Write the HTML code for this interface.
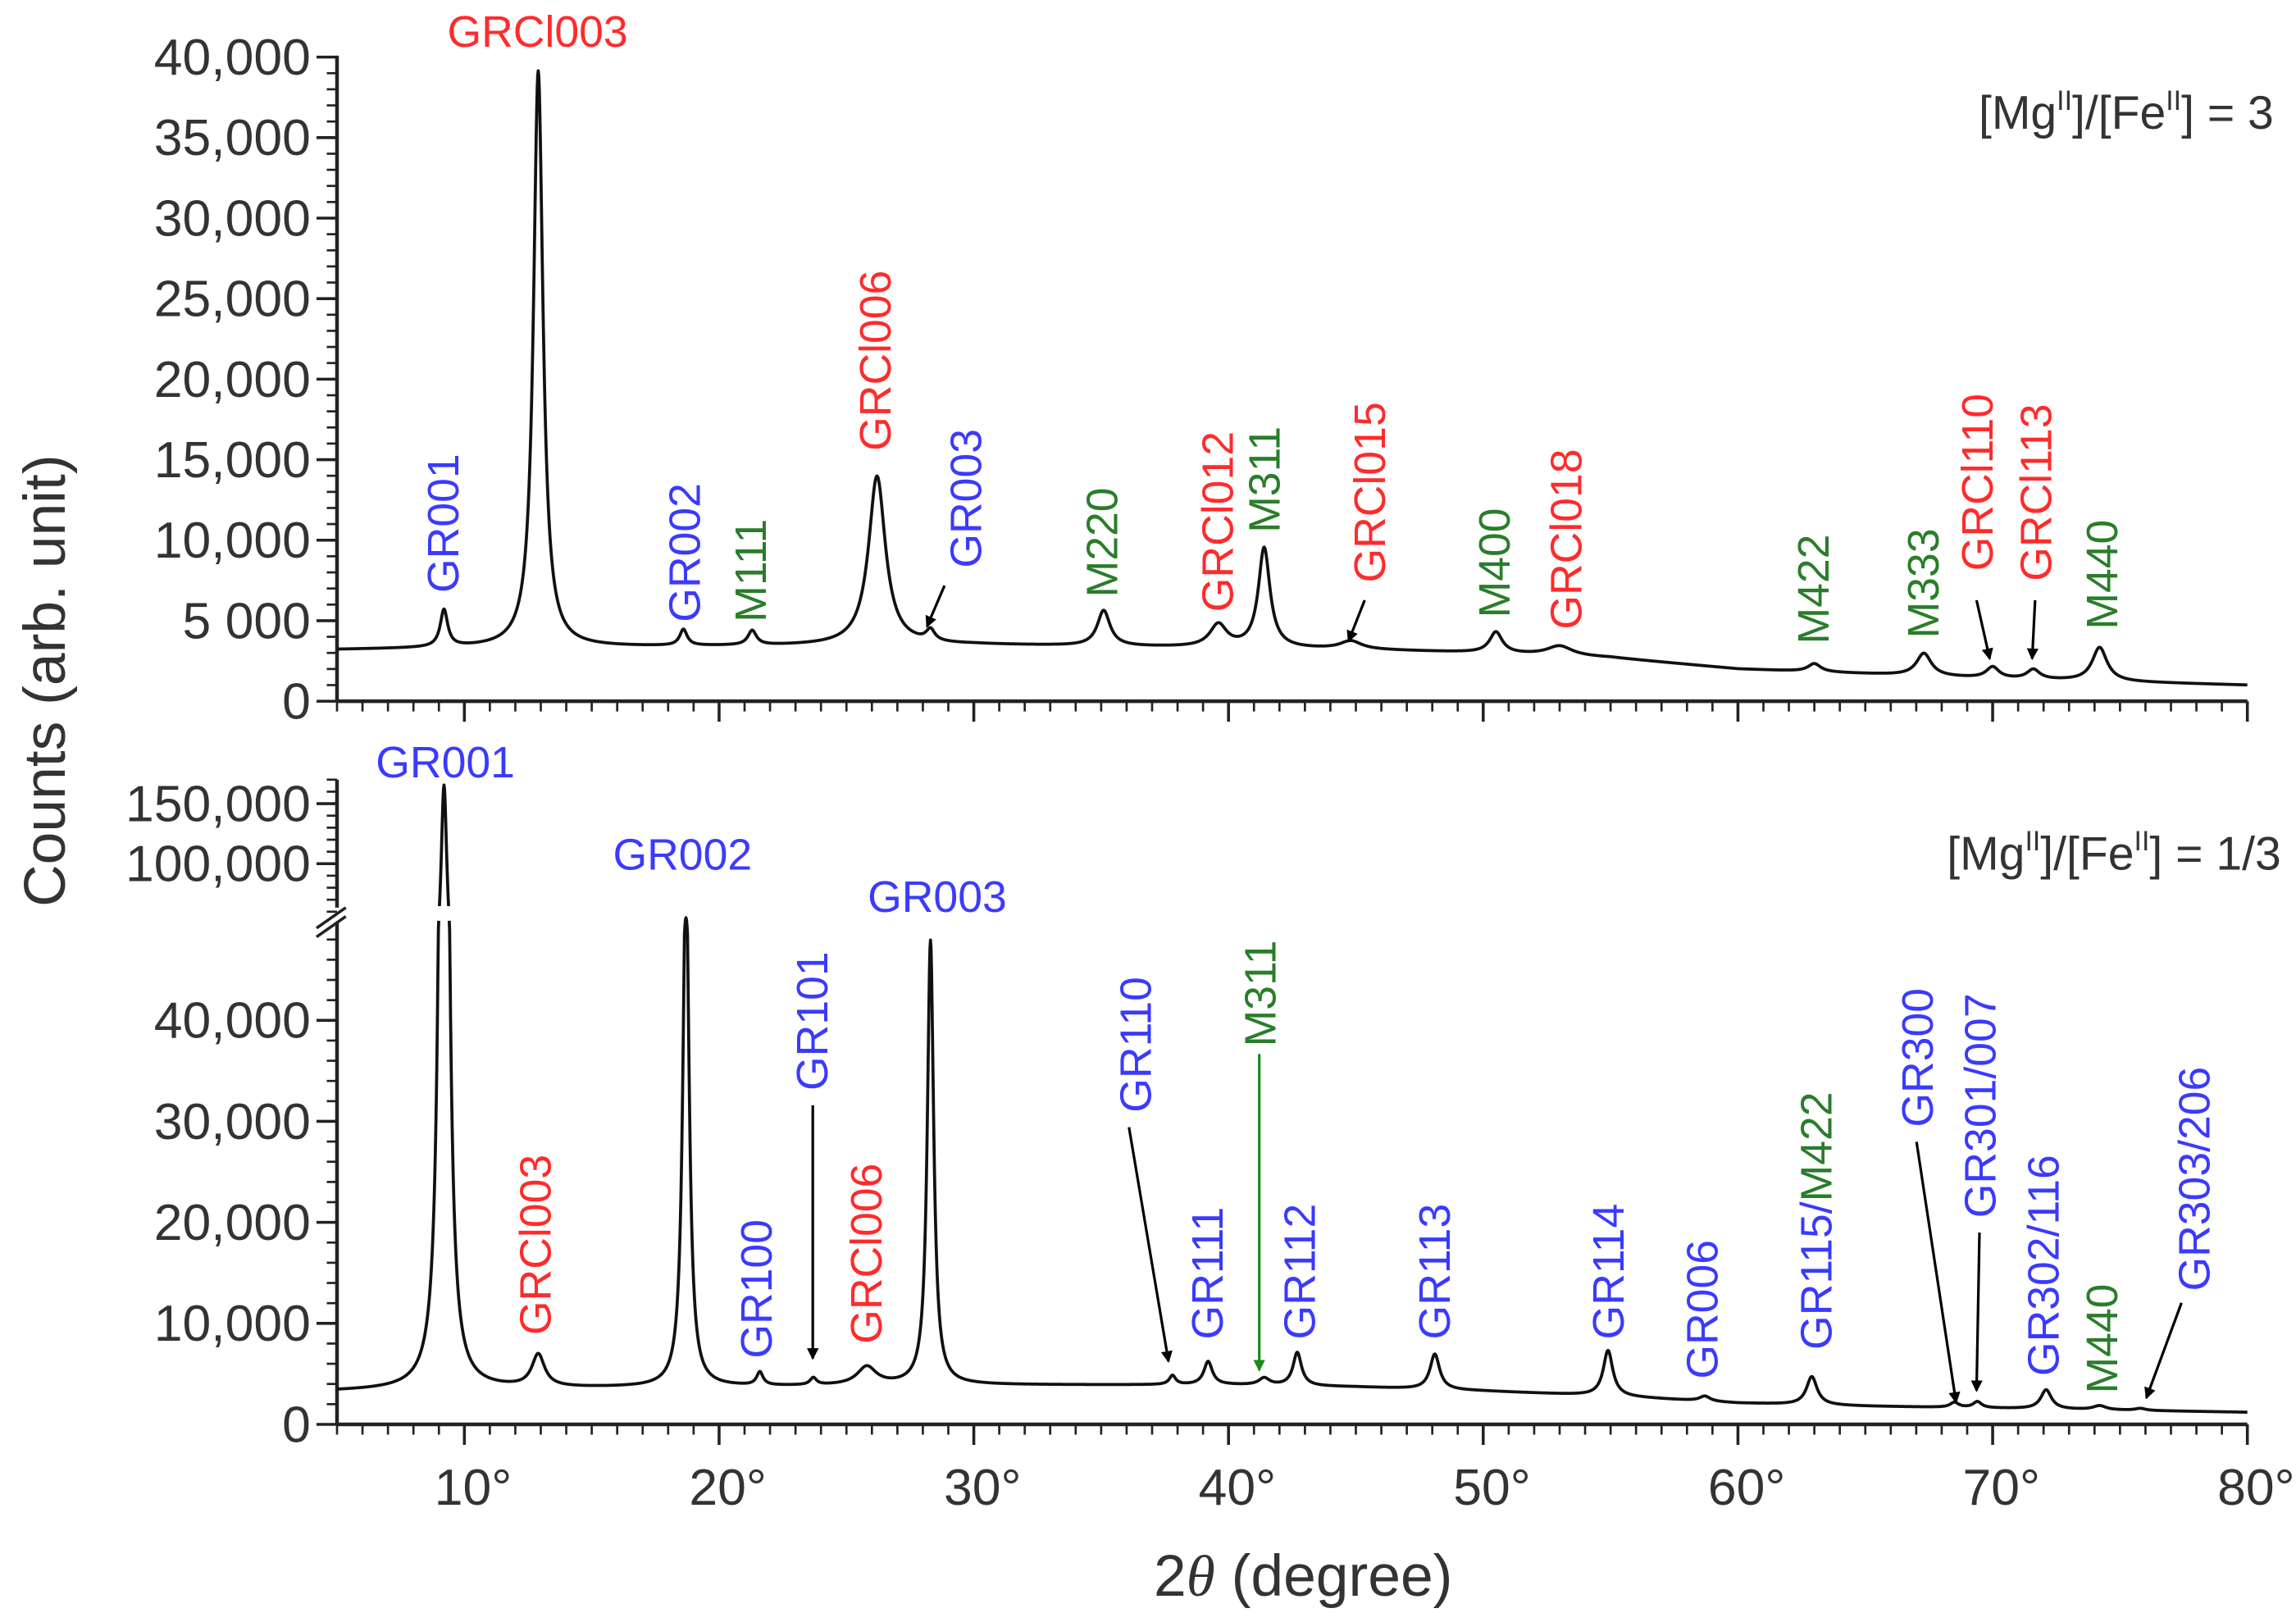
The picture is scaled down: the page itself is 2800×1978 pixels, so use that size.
<!DOCTYPE html>
<html><head><meta charset="utf-8"><style>
html,body{margin:0;padding:0;background:#fff;}
svg{display:block;font-family:"Liberation Sans",Arial,sans-serif;}
.tl{font-size:35px;fill:#333;}
</style></head><body>
<svg id="chart" width="2800" height="1978" viewBox="0 0 1568 1108" xmlns="http://www.w3.org/2000/svg">
<defs><marker id="ah" markerWidth="8" markerHeight="8" refX="7" refY="4" orient="auto" markerUnits="userSpaceOnUse"><path d="M0,0 L8,4 L0,8 z" fill="#000"/></marker>
<marker id="ahg" markerWidth="8" markerHeight="8" refX="7" refY="4" orient="auto" markerUnits="userSpaceOnUse"><path d="M0,0 L8,4 L0,8 z" fill="#1a8a1a"/></marker></defs>
<g id="axes"></g>
<g id="series"></g>
<g id="labels"></g>
</svg>
<script>
// ---- data ----
const bgX = [5, 10, 20, 30, 40, 45, 50, 55, 60, 65, 70, 75, 80];
const bgTop = [3200, 3300, 3400, 3500, 3300, 3200, 3000, 2700, 2000, 1700, 1400, 1200, 1000];
const bgBot = [3300, 3500, 3700, 3900, 3900, 3700, 3300, 2800, 2100, 1800, 1600, 1400, 1200];
const topPos = [9.2, 12.9, 18.6, 21.3, 26.2, 28.3, 35.1, 39.6, 41.4, 44.8, 50.5, 53.0, 63.0, 67.3, 70.0, 71.6, 74.2];
const topHt  = [2300, 35800, 1000, 900, 10500, 700, 2200, 1400, 6200, 500, 1300, 600, 500, 1400, 700, 600, 2100];
const topW   = [0.35, 0.45, 0.35, 0.4, 0.8, 0.4, 0.6, 0.8, 0.55, 1.0, 0.6, 1.2, 0.6, 0.7, 0.6, 0.6, 0.7];
const botPos = [9.2, 12.9, 18.7, 21.6, 23.7, 25.8, 28.3, 37.8, 39.2, 41.4, 42.7, 48.1, 54.9, 58.7, 62.9, 68.5, 69.4, 72.1, 74.2, 75.8];
const botHt  = [162000, 3200, 52000, 1300, 700, 1800, 44000, 900, 2300, 700, 3300, 3500, 4500, 500, 2800, 500, 600, 1900, 400, 200];
const botW   = [0.28, 0.6, 0.3, 0.3, 0.3, 0.9, 0.3, 0.3, 0.4, 0.5, 0.4, 0.45, 0.45, 0.5, 0.5, 0.4, 0.4, 0.5, 0.6, 0.5];
const topTicks = [0, 5000, 10000, 15000, 20000, 25000, 30000, 35000, 40000];
const topTickLabels = ["0", "5 000", "10,000", "15,000", "20,000", "25,000", "30,000", "35,000", "40,000"];
const botTicks = [0, 10000, 20000, 30000, 40000, 100000, 150000];
const botTickLabels = ["0", "10,000", "20,000", "30,000", "40,000", "100,000", "150,000"];
const xTicks = [10, 20, 30, 40, 50, 60, 70, 80];

// ---- scales ----
const X0 = 230, PXD = 17.4;
const xs = d => X0 + (d - 5) * PXD;
const yT = v => 479 - v * 0.011;
function yB(v) {
  if (v <= 48500) return 973 - v * 0.0069;
  if (v >= 57000) return 590 - (v - 100000) * 0.00082;
  return 638 - (v - 48500) / 8500 * 13;
}
function interp(xa, ya, x) {
  for (let i = 0; i < xa.length - 1; i++) if (x <= xa[i + 1]) { const t = (x - xa[i]) / (xa[i + 1] - xa[i]); return ya[i] + t * (ya[i + 1] - ya[i]); }
  return ya[ya.length - 1];
}
function spec(x, bg, P, H, W) {
  let v = interp(bgX, bg, x);
  for (let i = 0; i < P.length; i++) { const g = W[i] / 2; v += H[i] * g * g / ((x - P[i]) * (x - P[i]) + g * g); }
  return v;
}
const NS = "http://www.w3.org/2000/svg";
function el(tag, attrs, parent, txt) { const e = document.createElementNS(NS, tag); for (const k in attrs) e.setAttribute(k, attrs[k]); if (txt !== undefined) e.textContent = txt; parent.appendChild(e); return e; }
const gA = document.getElementById('axes'), gS = document.getElementById('series');

// ---- series ----
function drawSeries(bg, P, H, W, yf, name) {
  let d = "";
  for (let x = 5; x <= 80.0001; x += 0.02) { const v = spec(x, bg, P, H, W); d += (d ? "L" : "M") + xs(x).toFixed(2) + "," + yf(v).toFixed(2); }
  const p = el('path', { d: d, fill: 'none', stroke: '#111', 'stroke-width': 2.1, 'stroke-linejoin': 'round' }, gS);
  
  
}
drawSeries(bgTop, topPos, topHt, topW, yT, 'pattern-mg-fe-3');
drawSeries(bgBot, botPos, botHt, botW, yB, 'pattern-mg-fe-1-3');
const gap = el('rect', { x: xs(9.2) - 8, y: 619, width: 16, height: 10, fill: '#fff' }, gS);



// ---- axes ----
function line(x1, y1, x2, y2, w, parent, c) { return el('line', { x1, y1, x2, y2, stroke: c || '#222', 'stroke-width': w || 2 }, parent || gA); }
function xAxis(y, name, labels) {
  const g = el('g', {}, gA);
  
  
  line(X0, y, xs(80), y, 2.5, g);
  for (let d = 5; d <= 80; d++) { const maj = d % 10 === 0; line(xs(d), y, xs(d), y + (maj ? 14 : 7), maj ? 2 : 1.5, g); }
  if (labels) xTicks.forEach(t => { const tx = el('text', { x: xs(t) + 6, y: y + 55, 'text-anchor': 'middle', class: 'tl' }, g, t + '°');   });
}
xAxis(479, 'x-axis-top-panel', false);
xAxis(973, 'x-axis-bottom-panel', true);
(function () {
  const g = el('g', {}, gA);
  
  
  line(X0, 479, X0, yT(40000) - 1, 2.5, g);
  for (let v = 0; v <= 40000; v += 1000) { const maj = v % 5000 === 0; line(X0, yT(v), X0 - (maj ? 14 : 7), yT(v), maj ? 2 : 1.5, g); }
  topTicks.forEach((t, i) => { const tx = el('text', { x: 212, y: yT(t) + 12, 'text-anchor': 'end', class: 'tl' }, g, topTickLabels[i]);   });
})();
(function () {
  const g = el('g', {}, gA);
  
  
  line(X0, 973, X0, 630, 2.5, g);
  line(X0, 620, X0, yB(170000), 2.5, g);
  for (let v = 0; v <= 48000; v += 2000) { const maj = v % 10000 === 0; line(X0, yB(v), X0 - (maj ? 14 : 7), yB(v), maj ? 2 : 1.5, g); }
  for (let v = 60000; v <= 170000; v += 10000) { const maj = v % 50000 === 0; line(X0, yB(v), X0 - (maj ? 14 : 7), yB(v), maj ? 2 : 1.5, g); }
  botTicks.forEach((t, i) => { const tx = el('text', { x: 212, y: yB(t) + 12, 'text-anchor': 'end', class: 'tl' }, g, botTickLabels[i]);   });
  line(216, 634, 236, 620, 2, g); line(216, 640, 236, 626, 2, g);
})();
</script>
<svg style="position:absolute;left:0;top:0" width="2800" height="1978" viewBox="0 0 1568 1108" xmlns="http://www.w3.org/2000/svg" font-family="Liberation Sans, Arial, sans-serif">
<text transform="translate(44,465) rotate(-90)" text-anchor="middle" font-size="40" fill="#333">Counts (arb. unit)</text>
<text x="890" y="1090" text-anchor="middle" font-size="40" fill="#333">2<tspan font-style="italic" font-family="Liberation Serif, serif">θ</tspan> (degree)</text>
<text x="1553" y="88" text-anchor="end" font-size="32" fill="#333">[Mg<tspan font-size="19" dy="-13">II</tspan><tspan dy="13">]/[Fe</tspan><tspan font-size="19" dy="-13">II</tspan><tspan dy="13">] = 3</tspan></text>
<text x="1558" y="594" text-anchor="end" font-size="32" fill="#333">[Mg<tspan font-size="19" dy="-13">II</tspan><tspan dy="13">]/[Fe</tspan><tspan font-size="19" dy="-13">II</tspan><tspan dy="13">] = 1/3</tspan></text>
<g font-size="30">
<text x="367" y="32" text-anchor="middle" fill="#ff2b2b">GRCl003</text>
<text x="304" y="531" text-anchor="middle" fill="#3a3aff">GR001</text>
<text x="466" y="594" text-anchor="middle" fill="#3a3aff">GR002</text>
<text x="640" y="623" text-anchor="middle" fill="#3a3aff">GR003</text>
</g>
<g id="rot" font-size="30"></g>
<g id="arrows" stroke-width="1.8"></g>
</svg>
<script>
const rotLabels = [
 ["GR001",302,405,"#3a3aff"],["GR002",467,425,"#3a3aff"],["M111",512,425,"#2a7d2a"],["GRCl006",597,308,"#ff2b2b"],
 ["GR003",659,388,"#3a3aff"],["M220",752,408,"#2a7d2a"],["GRCl012",831,418,"#ff2b2b"],["M311",863,364,"#2a7d2a"],
 ["GRCl015",935,398,"#ff2b2b"],["M400",1020,422,"#2a7d2a"],["GRCl018",1069,430,"#ff2b2b"],["M422",1238,440,"#2a7d2a"],
 ["M333",1313,436,"#2a7d2a"],["GRCl110",1350,390,"#ff2b2b"],["GRCl113",1390,397,"#ff2b2b"],["M440",1435,430,"#2a7d2a"],
 ["GRCl003",365,912,"#ff2b2b"],["GR100",516,928,"#3a3aff"],["GR101",554,745,"#3a3aff"],["GRCl006",591,918,"#ff2b2b"],
 ["GR110",775,760,"#3a3aff"],["GR111",824,915,"#3a3aff"],["M311",860,715,"#2a7d2a"],["GR112",887,915,"#3a3aff"],
 ["GR113",979,915,"#3a3aff"],["GR114",1098,915,"#3a3aff"],["GR006",1162,942,"#3a3aff"],["GR115/M422",1240,922,"mix"],
 ["GR300",1309,770,"#3a3aff"],["GR301/007",1352,832,"#3a3aff"],["GR302/116",1395,940,"#3a3aff"],["M440",1435,952,"#2a7d2a"],
 ["GR303/206",1498,882,"#3a3aff"]];
const arrowList = [[645,400,633,428,0],[932,410,921,438,0],[1350,410,1359,450,0],[1390,410,1388,450,0],
 [555,755,555,928,0],[771,770,798,930,0],[860,720,860,936,1],[1309,780,1336,958,0],[1352,842,1350,950,0],[1490,890,1466,955,0]];
const NS2="http://www.w3.org/2000/svg";
const gr=document.getElementById('rot'), ga=document.getElementById('arrows');
rotLabels.forEach(l=>{
  const t=document.createElementNS(NS2,'text');
  t.setAttribute('transform',`translate(${l[1]+11},${l[2]}) rotate(-90)`);
  if(l[3]==="mix"){
    const a=document.createElementNS(NS2,'tspan');a.setAttribute('fill','#3a3aff');a.textContent='GR115/';t.appendChild(a);
    const b=document.createElementNS(NS2,'tspan');b.setAttribute('fill','#2a7d2a');b.textContent='M422';t.appendChild(b);
  } else { t.setAttribute('fill',l[3]); t.textContent=l[0]; }
  
  
  gr.appendChild(t);
});
arrowList.forEach(a=>{
  const ln=document.createElementNS(NS2,'line');
  ln.setAttribute('x1',a[0]);ln.setAttribute('y1',a[1]);ln.setAttribute('x2',a[2]);ln.setAttribute('y2',a[3]);
  ln.setAttribute('stroke',a[4]?'#1a8a1a':'#000');
  ln.setAttribute('marker-end',a[4]?'url(#ahg)':'url(#ah)');
  
  
  ga.appendChild(ln);
});
</script>
</body></html>
